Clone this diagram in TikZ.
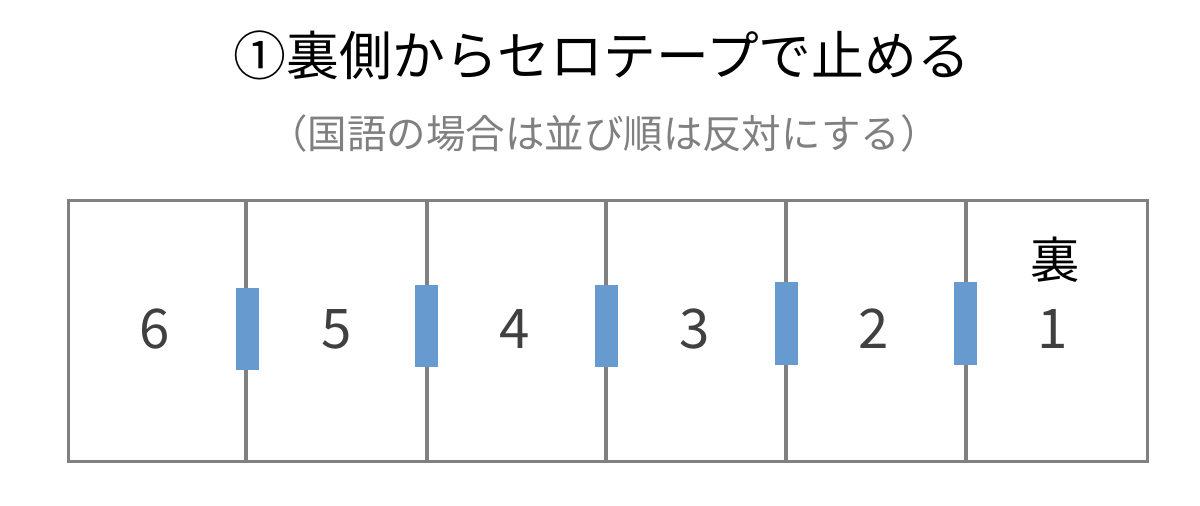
\documentclass[tikz,border=0pt]{standalone}
\usepackage{fontspec}
\setmainfont{Noto Sans CJK JP}
\definecolor{frame}{RGB}{128,128,128}
\definecolor{tape}{RGB}{103,155,208}
\definecolor{numc}{RGB}{64,64,64}
\definecolor{subc}{RGB}{128,128,128}
\begin{document}
\begin{tikzpicture}[x=0.75pt,y=-0.75pt,
  panelline/.style={draw=frame,line width=2.3pt},
  tapebox/.style={fill=tape,draw=none,minimum width=17.25pt,minimum height=62pt,inner sep=0pt},
  num/.style={text=numc,font=\fontsize{41}{41}\selectfont,inner sep=0pt},
  titletext/.style={text=black,font=\fontsize{39.6}{39.6}\selectfont,inner sep=0pt},
  subtext/.style={text=subc,font=\fontsize{29.6}{29.6}\selectfont,inner sep=0pt}]
\useasboundingbox (0,0) rectangle (1200,506);
\fill[white] (0,0) rectangle (1200,506);
% frame
\node[panelline,minimum width=809pt,minimum height=196pt,anchor=north west,inner sep=0pt] (frame) at (67,199) {};
\foreach \i/\x in {1/246,2/427,3/606,4/786,5/966}{
  \coordinate (t\i) at (\x,199);
  \coordinate (b\i) at (\x,460);
  \draw[panelline] (t\i) -- (b\i);
}
% tapes
\node[tapebox] (tape1) at (247,329) {};
\node[tapebox] (tape2) at (426.5,326) {};
\node[tapebox] (tape3) at (606,326) {};
\node[tapebox] (tape4) at (786,323.5) {};
\node[tapebox] (tape5) at (965.5,323.5) {};
% numbers
\node[num] (n6) at (155,329) {6};
\node[num] (n5) at (337,329) {5};
\node[num] (n4) at (515,329) {4};
\node[num] (n3) at (695,329) {3};
\node[num] (n2) at (874,329) {2};
\node[num] (n1) at (1053,329) {1};
\node[titletext,font=\fontsize{37}{37}\selectfont] (ura) at (1055,260) {裏};
% titles
\node[titletext] (title) at (602,55) {①裏側からセロテープで止める};
\node[subtext] (sub) at (604,134) {（国語の場合は並び順は反対にする）};
\end{tikzpicture}
\end{document}
